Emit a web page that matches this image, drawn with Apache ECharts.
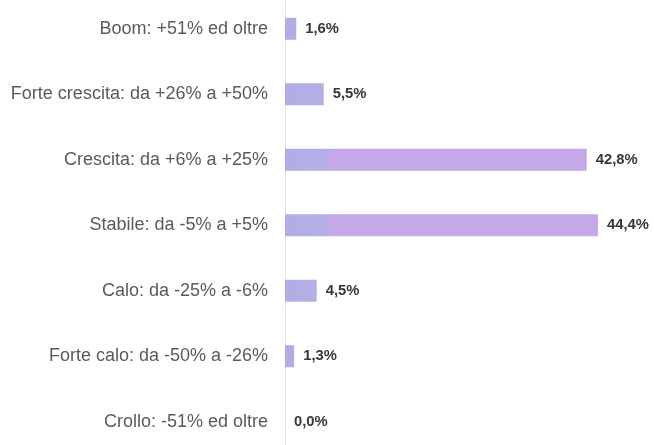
<!DOCTYPE html>
<html>
<head>
<meta charset="utf-8">
<script src="https://cdn.jsdelivr.net/npm/echarts@6/dist/echarts.min.js"></script>
<style>html,body{margin:0;padding:0;background:#fff}#c{width:654px;height:445px}</style>
</head>
<body>
<div id="c"></div>
<script>
var categories = [
  'Boom: +51% ed oltre',
  'Forte crescita: da +26% a +50%',
  'Crescita: da +6% a +25%',
  'Stabile: da -5% a +5%',
  'Calo: da -25% a -6%',
  'Forte calo: da -50% a -26%',
  'Crollo: -51% ed oltre'
];
var values = [1.6, 5.5, 42.8, 44.4, 4.5, 1.3, 0.0];

var chart = echarts.init(document.getElementById('c'), null, {renderer: 'canvas'});
chart.setOption({
  animation: false,
  backgroundColor: '#ffffff',
  grid: {left: 285, right: 16.5, top: -4, height: 458.5, containLabel: false, outerBoundsMode: 'none'},
  xAxis: {
    type: 'value', min: 0, max: 50, show: false
  },
  yAxis: {
    type: 'category', data: categories, inverse: true,
    axisLine: {show: true, lineStyle: {color: '#e2e2e2', width: 1}},
    axisTick: {show: false},
    splitLine: {show: false},
    axisLabel: {
      margin: 17, color: '#5a5a5a', fontSize: 18,
      fontFamily: 'Liberation Sans, Arial, sans-serif'
    }
  },
  series: [{
    type: 'bar',
    data: values,
    barWidth: 22,
    itemStyle: {
      color: new echarts.graphic.LinearGradient(285, 0, 330, 0, [
        {offset: 0, color: '#b0ade4'},
        {offset: 0.9, color: '#b5afe8'},
        {offset: 1, color: '#c4a8e7'}
      ], true)
    },
    label: {
      show: true, position: 'right', distance: 9,
      color: '#383838', fontSize: 14.8, fontWeight: 'bold',
      fontFamily: 'Liberation Sans, Arial, sans-serif',
      formatter: function (p) { return p.value.toFixed(1).replace('.', ',') + '%'; }
    }
  }]
});
</script>
</body>
</html>
